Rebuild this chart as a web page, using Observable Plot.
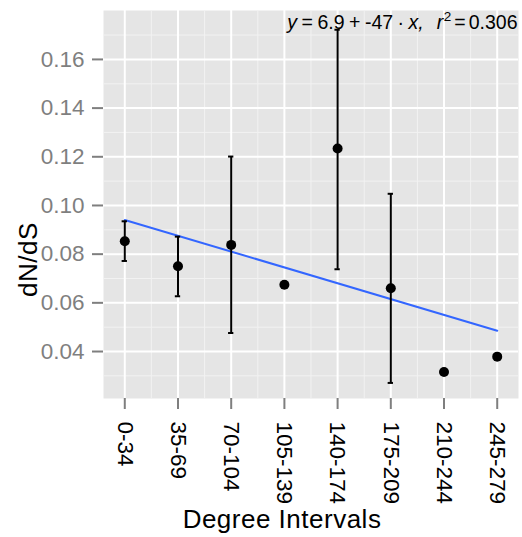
<!DOCTYPE html>
<html>
<head>
<meta charset="utf-8">
<script src="https://cdn.jsdelivr.net/npm/d3@7"></script>
<script src="https://cdn.jsdelivr.net/npm/@observablehq/plot@0.6"></script>
<style>
  html, body { margin: 0; padding: 0; background: #ffffff; }
  #chart svg { display: block; }
</style>
</head>
<body>
<div id="chart"></div>
<script>
// ---- data ----
const intervals = ["0-34", "35-69", "70-104", "105-139", "140-174", "175-209", "210-244", "245-279"];
const dnds      = [0.0853, 0.0750, 0.0838, 0.0674, 0.1234, 0.0660, 0.0316, 0.0379];
const lower     = [0.0772, 0.0627, 0.0476, null,   0.0738, 0.0271, null,   null];
const upper     = [0.0935, 0.0872, 0.1201, null,   0.1722, 0.1048, null,   null];
const yTicks    = [0.04, 0.06, 0.08, 0.10, 0.12, 0.14, 0.16];
const xTitle = "Degree Intervals";
const yTitle = "dN/dS";
// regression annotation, token by token
const annotationTokens = ["y", "=", "6.9", "+", "-47", "·", "x,", "r", "2", "=", "0.306"];
const annotation = annotationTokens.join(" ");

// ---- derived tables ----
const data = intervals.map((label, k) => ({i: k + 1, label, v: dnds[k], lo: lower[k], hi: upper[k]}));
const bars = data.filter(d => d.lo != null && d.hi != null);
const xIdx = data.map(d => d.i);
const step = yTicks[1] - yTicks[0];
const yMinor = [...yTicks.map(t => t - step / 2), yTicks[yTicks.length - 1] + step / 2];
const xMinor = xIdx.slice(1).map(i => i - 0.5);

const font = "'Liberation Sans', Arial, Helvetica, sans-serif";

const chart = Plot.plot({
  width: 522,
  height: 537,
  marginTop: 10,
  marginRight: 4,
  marginBottom: 139,
  marginLeft: 103,
  style: {fontFamily: font, background: "#ffffff", color: "#000000"},
  x: {type: "linear", domain: [0.6, 8.4]},
  y: {type: "linear", domain: [0.0207, 0.1801]},
  marks: [
    Plot.frame({fill: "#E5E5E5", stroke: null}),
    Plot.ruleY(yMinor, {stroke: "#F2F2F2", strokeWidth: 1}),
    Plot.ruleX(xMinor, {stroke: "#F2F2F2", strokeWidth: 1}),
    Plot.ruleY(yTicks, {stroke: "#FFFFFF", strokeWidth: 2}),
    Plot.ruleX(xIdx, {stroke: "#FFFFFF", strokeWidth: 2}),
    Plot.axisY({
      ticks: yTicks, tickFormat: d3.format(".2f"), tickSize: 11, tickPadding: 8,
      color: "#7F7F7F", strokeWidth: 2, fontSize: 22.5, label: null
    }),
    Plot.axisX({
      ticks: xIdx, tickFormat: i => intervals[i - 1], tickRotate: 90, tickSize: 11, tickPadding: 12,
      stroke: "#7F7F7F", fill: "#000000", strokeWidth: 2, fontSize: 22.5, label: null
    }),
    Plot.linearRegressionY(data, {x: "i", y: "v", stroke: "#3366FF", strokeWidth: 2, ci: 0}),
    Plot.ruleX(bars, {x: "i", y1: "lo", y2: "hi", stroke: "#000000", strokeWidth: 2}),
    Plot.ruleY(bars, {y: "lo", x1: d => d.i - 0.05, x2: d => d.i + 0.05, stroke: "#000000", strokeWidth: 2}),
    Plot.ruleY(bars, {y: "hi", x1: d => d.i - 0.05, x2: d => d.i + 0.05, stroke: "#000000", strokeWidth: 2}),
    Plot.dot(data, {x: "i", y: "v", r: 5, fill: "#000000", stroke: null}),
    Plot.text([annotation], {frameAnchor: "top-right", textAnchor: "end", lineAnchor: "bottom",
      dx: -1, dy: 18, fontSize: 19.5, fill: "#000000"}),
    Plot.text([xTitle], {frameAnchor: "bottom", lineAnchor: "bottom", dy: 129, dx: -29,
      fontSize: 26, fill: "#000000"}),
    Plot.text([yTitle], {frameAnchor: "top-left", rotate: -90, lineAnchor: "middle", textAnchor: "middle",
      dx: -75, dy: 249, fontSize: 26, fill: "#000000"})
  ]
});

// styled annotation: italic symbols, superscript, tight math spacing
d3.select(chart).selectAll("text").filter(function() { return this.textContent === annotation; })
  .each(function() {
    const t = d3.select(this);
    t.text(null);
    annotationTokens.forEach((tok, k) => {
      const s = t.append("tspan").text(tok);
      let gap = k === 0 ? 0 : 4.5;
      if (tok === "y" || tok === "x," || tok === "r") s.attr("font-style", "italic");
      if (k === 7) gap = 13;                 // after the comma
      if (k === 8) { gap = 0.5; s.attr("font-size", 13.5).attr("dy", -8); }
      if (k === 9) { gap = 3; s.attr("dy", 8); }
      if (k === 10) gap = 3;
      if (gap) s.attr("dx", gap);
    });
  });
d3.select(chart).selectAll("text").filter(function() {
  return this.textContent === xTitle || this.textContent === yTitle;
}).style("letter-spacing", "0.5px");

document.getElementById("chart").appendChild(chart);
</script>
</body>
</html>
